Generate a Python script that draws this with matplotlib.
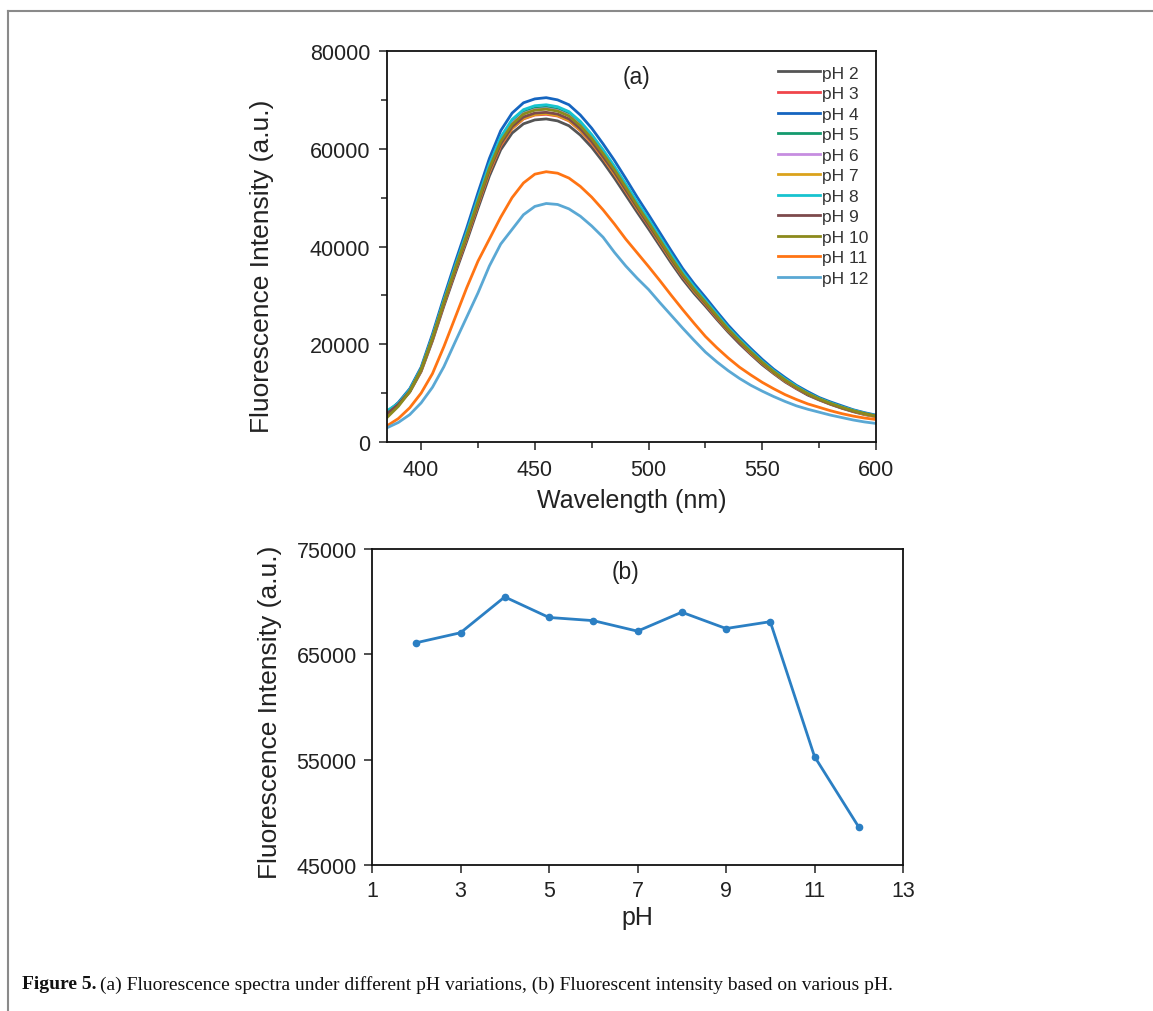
import matplotlib
matplotlib.use("Agg")
import matplotlib.pyplot as plt
from matplotlib.lines import Line2D
from matplotlib.ticker import MultipleLocator

# ---------------- data ----------------
wavelength = [385, 390, 395, 400, 405, 410, 415, 420, 425, 430, 435, 440, 445, 450,
              455, 460, 465, 470, 475, 480, 485, 490, 495, 500, 505, 510, 515, 520,
              525, 530, 535, 540, 545, 550, 555, 560, 565, 570, 575, 580, 585, 590,
              595, 600]

ph2 = [5600, 7600, 10200, 14400, 20700, 27800, 34500, 41000, 47800, 54400, 59800, 63200, 65100, 65900,
       66100, 65700, 64700, 62800, 60300, 57300, 54000, 50500, 47000, 43600, 40100, 36600, 33300, 30400,
       27800, 25100, 22500, 20100, 17900, 15800, 14000, 12300, 10900, 9600, 8600, 7700, 6900, 6200,
       5600, 5200]
ph3 = [5700, 7700, 10400, 14600, 21000, 28200, 35000, 41600, 48500, 55200, 60600, 64100, 66100, 66900,
       67050, 66700, 65700, 63700, 61100, 58100, 54800, 51300, 47700, 44300, 40700, 37200, 33800, 30900,
       28200, 25400, 22800, 20400, 18100, 16100, 14200, 12500, 11000, 9800, 8700, 7800, 7000, 6300,
       5700, 5200]
ph4 = [6000, 8100, 10900, 15300, 22100, 29600, 36800, 43700, 51000, 58000, 63700, 67300, 69400, 70200,
       70450, 70000, 69000, 66900, 64200, 61000, 57600, 53900, 50100, 46500, 42800, 39100, 35500, 32400,
       29600, 26700, 23900, 21400, 19100, 16900, 14900, 13200, 11600, 10300, 9100, 8200, 7400, 6600,
       6000, 5500]
ph5 = [6200, 7900, 10600, 14900, 21400, 28800, 35700, 42500, 49500, 56400, 61900, 65500, 67500, 68300,
       68500, 68100, 67100, 65100, 62400, 59300, 56000, 52400, 48700, 45200, 41600, 38000, 34500, 31500,
       28800, 26000, 23300, 20800, 18500, 16400, 14500, 12800, 11300, 10000, 8900, 8000, 7100, 6400,
       5800, 5300]
ph6 = [5800, 7800, 10500, 14800, 21400, 28700, 35600, 42300, 49300, 56200, 61700, 65200, 67200, 68000,
       68200, 67800, 66800, 64800, 62200, 59100, 55800, 52200, 48500, 45000, 41400, 37800, 34400, 31400,
       28700, 25900, 23200, 20800, 18500, 16300, 14400, 12700, 11200, 9900, 8800, 7900, 7100, 6400,
       5800, 5300]
ph7 = [5700, 7700, 10400, 14600, 21000, 28300, 35100, 41700, 48600, 55300, 60800, 64200, 66200, 67000,
       67200, 66800, 65800, 63800, 61300, 58200, 54900, 51400, 47800, 44400, 40800, 37200, 33900, 30900,
       28300, 25500, 22800, 20500, 18200, 16100, 14200, 12500, 11100, 9800, 8700, 7800, 7000, 6300,
       5700, 5200]
ph8 = [6400, 7900, 10700, 15000, 21600, 29000, 36000, 42800, 49900, 56800, 62400, 66000, 68000, 68800,
       69000, 68600, 67600, 65600, 62900, 59800, 56400, 52800, 49100, 45600, 41900, 38300, 34800, 31800,
       29000, 26200, 23400, 21000, 18700, 16500, 14600, 12900, 11400, 10000, 8900, 8000, 7200, 6500,
       5900, 5400]
ph9 = [5800, 7700, 10400, 14700, 21100, 28400, 35200, 41900, 48800, 55600, 61000, 64500, 66500, 67300,
       67450, 67100, 66100, 64100, 61500, 58400, 55200, 51600, 48000, 44500, 41000, 37400, 34000, 31100,
       28400, 25600, 22900, 20500, 18300, 16200, 14300, 12600, 11100, 9800, 8700, 7800, 7000, 6300,
       5800, 5300]
ph10 = [5000, 7300, 10300, 14800, 21300, 28600, 35500, 42200, 49200, 56000, 61500, 65000, 67100, 67900,
        68100, 67700, 66700, 64700, 62100, 59000, 55700, 52100, 48400, 44900, 41300, 37700, 34300, 31300,
        28600, 25800, 23100, 20700, 18400, 16300, 14400, 12700, 11200, 9900, 8800, 7900, 7100, 6400,
        5800, 5300]
ph11 = [3300, 4800, 7000, 10000, 14000, 19500, 25500, 31500, 37000, 41500, 46000, 50000, 53000, 54800,
        55300, 55000, 54000, 52300, 50100, 47500, 44600, 41500, 38700, 35900, 33000, 30000, 27100, 24300,
        21600, 19300, 17200, 15300, 13700, 12200, 10900, 9700, 8700, 7800, 7100, 6400, 5800, 5300,
        4900, 4600]
ph12 = [2900, 4000, 5600, 8000, 11200, 15400, 20500, 25500, 30500, 36000, 40500, 43500, 46500, 48200,
        48800, 48600, 47700, 46200, 44200, 41900, 38800, 36000, 33500, 31200, 28500, 25900, 23300, 20800,
        18400, 16400, 14600, 13000, 11600, 10400, 9300, 8300, 7400, 6700, 6100, 5500, 5000, 4500,
        4100, 3800]

series_labels = ["pH 2", "pH 3", "pH 4", "pH 5", "pH 6", "pH 7", "pH 8", "pH 9", "pH 10", "pH 11", "pH 12"]
series_colors = ["#555555", "#f0454b", "#1565c0", "#149a6e", "#c68de0", "#dba21c",
                 "#17c3cf", "#7d4a4c", "#8c8a1c", "#ff7413", "#5aa8d4"]

ph_values = [2, 3, 4, 5, 6, 7, 8, 9, 10, 11, 12]
peak_intensity = [66100, 67050, 70450, 68500, 68200, 67200, 69000, 67450, 68100, 55300, 48600]

# ---------------- figure ----------------
W, H = 1153, 1012
fig = plt.figure(figsize=(W / 100, H / 100), dpi=100)
plt.rcParams['font.family'] = ['Liberation Sans', 'DejaVu Sans']

def fx(px):
    return px / W

def fy(py):
    return 1 - py / H

TXT = '#222222'

# ---- (a) spectra ----
axa = fig.add_axes([fx(387), fy(443), fx(876 - 387), (443 - 52) / H])
spectra = [ph2, ph3, ph4, ph5, ph6, ph7, ph8, ph9, ph10, ph11, ph12]
for vals, lab, col in zip(spectra, series_labels, series_colors):
    axa.plot(wavelength, vals, color=col, lw=2.0, label=lab)
axa.set_xlim(385, 600)
axa.set_ylim(0, 80000)
axa.xaxis.set_major_locator(MultipleLocator(50))
axa.xaxis.set_minor_locator(MultipleLocator(25))
axa.yaxis.set_major_locator(MultipleLocator(20000))
axa.yaxis.set_minor_locator(MultipleLocator(10000))
axa.tick_params(which='both', direction='out', top=False, right=False, labelsize=15.5, colors=TXT)
axa.tick_params(which='major', length=6, width=1.1, pad=6)
axa.tick_params(which='minor', length=4, width=1.1)
for s in axa.spines.values():
    s.set_linewidth(1.3)
    s.set_color('#111111')
axa.set_xlabel("Wavelength (nm)", fontsize=18, color=TXT, labelpad=6)
axa.set_ylabel("Fluorescence Intensity (a.u.)", fontsize=19, color=TXT, va='center')
axa.yaxis.set_label_coords((262 - 387) / 489, (443 - 266) / 391)
axa.text(0.51, 0.935, "(a)", transform=axa.transAxes, fontsize=16.5, ha='center', va='center', color=TXT)
leg = axa.legend(loc='upper right', frameon=False, fontsize=12.5, handlelength=2.4,
                 handletextpad=0.1, labelspacing=0.31, borderaxespad=0.0,
                 bbox_to_anchor=(0.998, 0.981))
for t in leg.get_texts():
    t.set_color('#333333')

# ---- (b) peak intensity ----
axb = fig.add_axes([fx(372), fy(866), fx(903 - 372), (866 - 550) / H])
axb.plot(ph_values, peak_intensity, color='#2b7fc3', lw=2.0, marker='o', markersize=4.5)
axb.set_xlim(1, 13)
axb.set_ylim(45000, 75000)
axb.set_xticks([1, 3, 5, 7, 9, 11, 13])
axb.set_yticks([45000, 55000, 65000, 75000])
axb.tick_params(which='both', direction='out', top=False, right=False, labelsize=15.5,
                length=6, width=1.1, colors=TXT, pad=5)
for s in axb.spines.values():
    s.set_linewidth(1.3)
    s.set_color('#111111')
axb.set_xlabel("pH", fontsize=18, color=TXT, labelpad=3)
axb.set_ylabel("Fluorescence Intensity (a.u.)", fontsize=19, color=TXT, va='center')
axb.yaxis.set_label_coords((270 - 372) / 531, (866 - 712) / 316)
axb.text(0.478, 0.93, "(b)", transform=axb.transAxes, fontsize=16.5, ha='center', va='center', color=TXT)

# ---- frame lines ----
fig.add_artist(Line2D([fx(8), 1.0], [fy(12), fy(12)], color='#8a8a8a', lw=1.5, transform=fig.transFigure))
fig.add_artist(Line2D([fx(8), fx(8)], [fy(12), 0.0], color='#8a8a8a', lw=1.5, transform=fig.transFigure))

# ---- caption ----
serif = ['Liberation Serif', 'DejaVu Serif']
t1 = fig.text(fx(22), fy(985), "Figure 5.", fontsize=14, fontweight='bold', family=serif,
              ha='left', va='center', color='#111111')
fig.canvas.draw()
bb = t1.get_window_extent()
fig.text((bb.x1 + 4) / W, fy(985),
         "(a) Fluorescence spectra under different pH variations, (b) Fluorescent intensity based on various pH.",
         fontsize=14, family=serif, ha='left', va='center', color='#111111')

fig.savefig("out.png", dpi=100)
